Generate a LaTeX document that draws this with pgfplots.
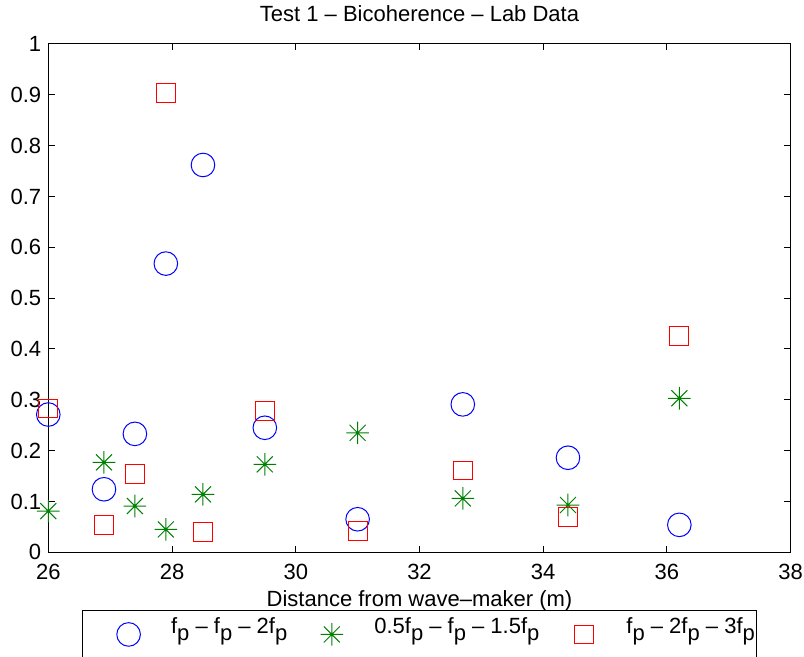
\documentclass[border=0pt]{standalone}
\usepackage{pgfplots}
\pgfplotsset{compat=1.18}
\usepackage{fontspec}
\setmainfont{Liberation Sans}

\definecolor{mblue}{rgb}{0,0,1}
\definecolor{mgreen}{rgb}{0,0.5,0}
\definecolor{mred}{rgb}{1,0,0}

% eight-armed asterisk (plus and cross overlaid)
\pgfdeclareplotmark{mstar}{%
  \pgfpathmoveto{\pgfqpoint{-\pgfplotmarksize}{0pt}}%
  \pgfpathlineto{\pgfqpoint{\pgfplotmarksize}{0pt}}%
  \pgfpathmoveto{\pgfqpoint{0pt}{-\pgfplotmarksize}}%
  \pgfpathlineto{\pgfqpoint{0pt}{\pgfplotmarksize}}%
  \pgfpathmoveto{\pgfqpoint{-.707\pgfplotmarksize}{-.707\pgfplotmarksize}}%
  \pgfpathlineto{\pgfqpoint{.707\pgfplotmarksize}{.707\pgfplotmarksize}}%
  \pgfpathmoveto{\pgfqpoint{-.707\pgfplotmarksize}{.707\pgfplotmarksize}}%
  \pgfpathlineto{\pgfqpoint{.707\pgfplotmarksize}{-.707\pgfplotmarksize}}%
  \pgfusepathqstroke}

\newcommand{\fp}{f\raisebox{-3.5pt}{p}}

\pgfplotsset{
  mleg/.style={legend image code/.code={
    \path (-22pt,0pt) (21pt,0pt);
    \draw[yshift=1.5pt,mark repeat=2,mark phase=2,##1] plot coordinates {(-10pt,0pt)(0pt,0pt)(10pt,0pt)};}}
}

\begin{document}
\begin{tikzpicture}[font=\fontsize{11}{13}\selectfont]
\begin{axis}[
  scale only axis,
  width=371.2pt, height=254.15pt,
  xmin=26, xmax=38, ymin=0, ymax=1,
  xtick={26,28,30,32,34,36,38},
  ytick={0,0.1,0.2,0.3,0.4,0.5,0.6,0.7,0.8,0.9,1},
  tick align=inside,
  major tick length=3.2pt,
  tick style={black, line width=0.5pt},
  axis line style={black, line width=0.5pt},
  /pgf/number format/assume math mode=true,
  yticklabel style={/pgf/number format/fixed, /pgf/number format/precision=1},
  xticklabel style={yshift=-2.3pt},
  title={Test 1 – Bicoherence – Lab Data},
  title style={at={(0.5,1)}, anchor=base, yshift=5pt},
  xlabel={Distance from wave–maker (m)},
  xlabel style={at={(0.5,0)}, anchor=base, yshift=-27.2pt},
  clip=false,
  legend columns=3,
  legend style={at={(0.5,-0.1135)}, anchor=north, draw=black, line width=0.5pt,
    fill=white, inner xsep=1pt, inner ysep=3.5pt, column sep=0pt, row sep=0pt,
    nodes={inner sep=0pt, text depth=12pt}, font=\fontsize{11}{13}\selectfont},
]
\coordinate (bbsw) at (rel axis cs:0,0);
\coordinate (bbne) at (rel axis cs:1,1);

% f_p - f_p - 2f_p
\addplot[only marks, mark=o, color=mblue, mark size=5.9pt, line width=0.5pt, mleg]
  coordinates {(26,0.271) (26.9,0.124) (27.4,0.233) (27.9,0.568) (28.5,0.762)
               (29.5,0.245) (31,0.065) (32.7,0.291) (34.4,0.186) (36.2,0.054)};
\addlegendentry{\fp{} – \fp{} – 2\fp}

% 0.5f_p - f_p - 1.5f_p
\addplot[only marks, mark=mstar, color=mgreen, mark size=5.65pt, line width=0.5pt, mleg]
  coordinates {(26,0.081) (26.9,0.177) (27.4,0.091) (27.9,0.045) (28.5,0.114)
               (29.5,0.173) (31,0.235) (32.7,0.106) (34.4,0.093) (36.2,0.303)};
\addlegendentry{0.5\fp{} – \fp{} – 1.5\fp}

% f_p - 2f_p - 3f_p
\addplot[only marks, mark=square, color=mred, mark size=4.7pt, line width=0.5pt, mleg]
  coordinates {(26,0.283) (26.9,0.054) (27.4,0.154) (27.9,0.903) (28.5,0.040)
               (29.5,0.278) (31,0.042) (32.7,0.161) (34.4,0.069) (36.2,0.426)};
\addlegendentry{\fp{} – 2\fp{} – 3\fp}
\end{axis}
\pgfresetboundingbox
\path[use as bounding box] ([xshift=-24.15pt,yshift=-52.35pt]bbsw) rectangle ([xshift=6.65pt,yshift=22pt]bbne);
\end{tikzpicture}
\end{document}
